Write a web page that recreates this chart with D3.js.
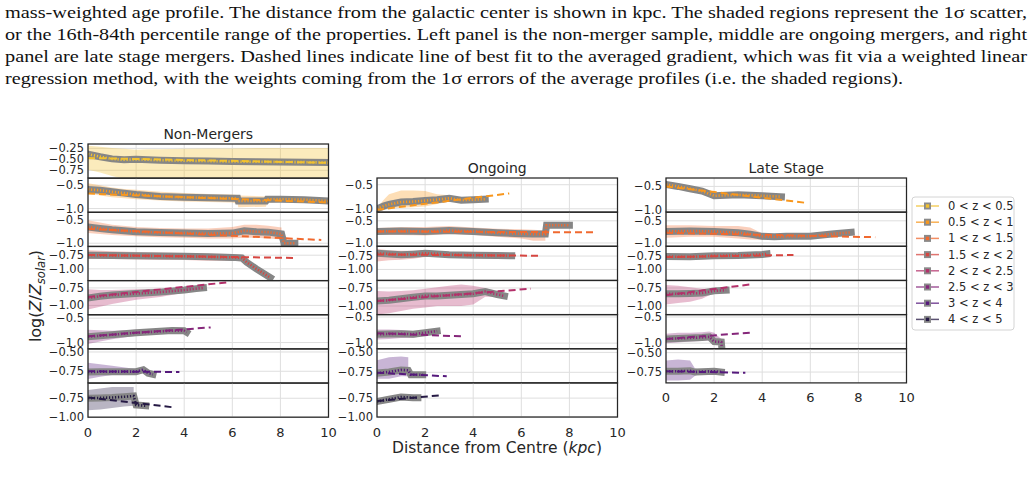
<!DOCTYPE html>
<html>
<head>
<meta charset="utf-8">
<script src="https://cdn.jsdelivr.net/npm/d3@7"></script>
<style>
  body { margin: 0; background: #fff; }
  svg { display: block; }
  text { font-family: "DejaVu Sans", sans-serif; fill: #262626; }
  .cap { font-family: "Liberation Serif", serif; font-size: 17px; fill: #111; }
</style>
</head>
<body>
<svg id="fig" width="1034" height="481"></svg>
<script>
// redshift bins + colours
var zBins = ["0 < z < 0.5", "0.5 < z < 1", "1 < z < 1.5", "1.5 < z < 2",
             "2 < z < 2.5", "2.5 < z < 3", "3 < z < 4", "4 < z < 5"];
var binColors = ["#f2c12e", "#f8971d", "#f0692f", "#d64641",
                 "#b3306a", "#85267a", "#55197c", "#251944"];
var xTicks = [0, 2, 4, 6, 8, 10];

var captionLines = [
  "mass-weighted age profile. The distance from the galactic center is shown in kpc. The shaded regions represent the 1\u03c3 scatter,",
  "or the 16th-84th percentile range of the properties. Left panel is the non-merger sample, middle are ongoing mergers, and right",
  "panel are late stage mergers. Dashed lines indicate line of best fit to the averaged gradient, which was fit via a weighted linear",
  "regression method, with the weights coming from the 1\u03c3 errors of the average profiles (i.e. the shaded regions)."
];

// profiles: [r (kpc), log Z, 16th pct, 84th pct]
// --- Non-Mergers
var nm0 = [[0,-0.38,-0.74,-0.19],[0.5,-0.44,-0.80,-0.21],[1,-0.49,-0.88,-0.24],[1.5,-0.51,-0.95,-0.26],
           [2,-0.50,-0.97,-0.28],[2.5,-0.51,-0.97,-0.27],[3,-0.52,-0.97,-0.27],[4,-0.53,-0.97,-0.26],
           [5,-0.54,-0.97,-0.25],[6,-0.55,-0.97,-0.25],[7,-0.555,-0.97,-0.24],[8,-0.56,-0.97,-0.24],
           [9,-0.565,-0.97,-0.24],[10,-0.575,-0.97,-0.24]];
var nm1 = [[0,-0.59,-0.68,-0.46],[0.5,-0.61,-0.72,-0.50],[1,-0.64,-0.76,-0.55],[1.5,-0.67,-0.78,-0.58],
           [2,-0.70,-0.80,-0.60],[3,-0.74,-0.83,-0.64],[4,-0.76,-0.85,-0.67],[5,-0.77,-0.86,-0.69],
           [6,-0.78,-0.87,-0.70],[6.22,-0.78,-0.90,-0.71],[6.25,-0.84,-0.97,-0.72],[7.4,-0.84,-0.96,-0.74],
           [7.45,-0.80,-0.88,-0.74],[8,-0.80,-0.86,-0.75],[9,-0.81,-0.86,-0.76],[10,-0.84,-0.88,-0.80]];
var nm2 = [[0,-0.65,-0.78,-0.50],[0.5,-0.68,-0.80,-0.55],[1,-0.71,-0.82,-0.60],[2,-0.75,-0.85,-0.65],
           [3,-0.77,-0.87,-0.67],[4,-0.78,-0.88,-0.68],[5,-0.79,-0.90,-0.68],[6,-0.78,-0.90,-0.65],
           [6.5,-0.73,-0.88,-0.60],[7,-0.75,-0.88,-0.60],[7.5,-0.76,-0.90,-0.62],[8.05,-0.80,-0.92,-0.66],
           [8.15,-1.0,null,null],[8.6,-1.0,null,null]];
var nm3 = [[0,-0.75,-0.82,-0.66],[1,-0.755,-0.82,-0.68],[2,-0.76,-0.83,-0.69],[3,-0.765,-0.84,-0.70],
           [4,-0.77,-0.84,-0.71],[5,-0.78,-0.85,-0.72],[6,-0.79,-0.85,-0.73],[6.4,-0.80,-0.86,-0.74],
           [6.6,-0.88,null,null],[7.0,-1.0,null,null],[7.58,-1.16,null,null]];
var nm4 = [[0,-0.894,-1.06,-0.77],[0.5,-0.87,-1.02,-0.78],[1,-0.85,-0.98,-0.78],[2,-0.83,-0.92,-0.77],
           [3,-0.81,-0.88,-0.76],[4,-0.78,-0.82,-0.74],[4.5,-0.76,-0.79,-0.73],[4.8,-0.75,-0.77,-0.73]];
var nm5 = [[0,-0.88,-1.03,-0.74],[0.5,-0.86,-0.98,-0.75],[1,-0.84,-0.93,-0.76],[2,-0.80,-0.86,-0.74],
           [3,-0.77,-0.81,-0.73],[3.5,-0.755,-0.79,-0.72],[4,-0.76,-0.78,-0.74],[4.1,-0.79,null,null]];
var nm6 = [[0,-0.76,-0.85,-0.64],[0.5,-0.755,-0.82,-0.66],[1,-0.755,-0.80,-0.68],[2,-0.755,-0.79,-0.72],
           [2.3,-0.73,-0.76,-0.71],[2.5,-0.775,-0.80,-0.76],[2.7,-0.79,null,null]];
var nm7 = [[0,-0.75,-0.91,-0.64],[0.5,-0.745,-0.90,-0.62],[1,-0.74,-0.88,-0.60],[1.5,-0.73,-0.86,-0.60],
           [1.9,-0.72,-0.85,-0.60],[2.0,-0.84,null,null],[2.4,-0.85,null,null]];
// best fits: [value at r=0, value at end, end r]
var nmFits = [[-0.47,-0.58,10],[-0.68,-0.87,10],[-0.69,-0.93,9.7],[-0.745,-0.80,8.6],
              [-0.88,-0.67,5.8],[-0.87,-0.69,5.1],[-0.75,-0.76,3.8],[-0.74,-0.87,3.5]];
var nmLims = [[-0.93,-0.15],[-1.08,-0.35],[-1.07,-0.33],[-1.215,-0.59],
              [-1.134,-0.645],[-1.13,-0.43],[-0.903,-0.46],[-1.004,-0.546]];
var nmTicks = [[-0.25,-0.5,-0.75],[-0.5,-1.0],[-0.5,-1.0],[-0.75,-1.0],
               [-0.75,-1.0],[-0.5,-1.0],[-0.5,-0.75],[-0.75,-1.0]];

// --- Ongoing
var og1 = [[0,-1.0,-1.06,-0.98],[0.3,-0.94,-1.02,-0.80],[0.5,-0.91,-1.0,-0.70],[1,-0.86,-0.98,-0.62],
           [1.5,-0.85,-0.97,-0.62],[2,-0.83,-0.95,-0.63],[2.5,-0.81,-0.90,-0.70],[3,-0.78,-0.85,-0.72],
           [3.5,-0.82,-0.86,-0.77],[4,-0.81,-0.84,-0.78],[4.5,-0.80,-0.82,-0.78]];
var og2 = [[0,-0.74,-0.82,-0.66],[1,-0.73,-0.82,-0.64],[2,-0.74,-0.83,-0.64],[3,-0.72,-0.80,-0.62],
           [4,-0.74,-0.82,-0.65],[5,-0.77,-0.86,-0.68],[6,-0.79,-0.90,-0.69],[6.5,-0.80,-0.95,-0.70],
           [7,-0.80,-0.95,-0.72],[7.05,-0.60,null,null],[8,-0.60,null,null]];
var og3 = [[0,-0.70,-0.85,-0.62],[0.5,-0.71,-0.83,-0.64],[1,-0.725,-0.82,-0.65],[1.5,-0.715,-0.80,-0.65],
           [2,-0.70,-0.77,-0.64],[2.5,-0.71,-0.76,-0.66],[3,-0.725,-0.76,-0.69],[4,-0.735,-0.77,-0.70],
           [5,-0.74,-0.77,-0.71],[5.6,-0.745,-0.77,-0.72]];
var og4 = [[0,-0.93,-1.12,-0.79],[0.5,-0.92,-1.10,-0.80],[1,-0.90,-1.07,-0.79],[1.5,-0.88,-1.04,-0.78],
           [2,-0.86,-1.02,-0.76],[2.5,-0.86,-1.0,-0.74],[3,-0.85,-1.0,-0.72],[3.5,-0.84,-1.0,-0.70],
           [4,-0.83,-0.98,-0.72],[4.5,-0.80,-0.87,-0.75],[5,-0.84,-0.88,-0.80],[5.3,-0.86,-0.90,-0.82]];
var og5 = [[0,-0.83,-0.93,-0.74],[0.5,-0.825,-0.92,-0.74],[1,-0.82,-0.90,-0.75],[1.5,-0.83,-0.90,-0.77],
           [2,-0.80,-0.85,-0.76],[2.5,-0.77,-0.80,-0.74]];
var og6 = [[0,-0.76,-0.83,-0.60],[0.5,-0.745,-0.83,-0.56],[1,-0.72,-0.80,-0.55],[1.3,-0.725,-0.80,-0.56],
           [1.4,-0.78,null,null],[1.9,-0.78,null,null]];
var og7 = [[0,-0.795,-0.83,-0.77],[0.5,-0.765,-0.80,-0.74],[1,-0.735,-0.77,-0.70],[1.5,-0.745,-0.77,-0.72],
           [1.7,-0.745,-0.76,-0.73]];
var ogFits = [[-1.02,-0.68,5.5],[-0.74,-0.76,9.0],[-0.72,-0.745,6.7],[-0.93,-0.76,6.4],
              [-0.81,-0.87,3.5],[-0.755,-0.80,2.9],[-0.79,-0.71,2.7]];
var ogLims = [[-1.07,-0.36],[-1.075,-0.305],[-1.206,-0.568],[-1.12,-0.645],
              [-1.107,-0.455],[-0.883,-0.454],[-1.004,-0.546]];
var ogTicks = [[-0.5,-1.0],[-0.5,-1.0],[-0.75,-1.0],[-0.75,-1.0],[-0.5,-1.0],[-0.5,-0.75],[-0.75,-1.0]];

// --- Late Stage
var ls1 = [[0,-0.46,-0.50,-0.42],[0.5,-0.50,-0.54,-0.46],[1,-0.55,-0.59,-0.51],[1.5,-0.60,-0.64,-0.56],
           [2,-0.70,-0.74,-0.66],[2.5,-0.69,-0.73,-0.65],[3,-0.68,-0.72,-0.64],[3.5,-0.69,-0.72,-0.66],
           [4,-0.70,-0.73,-0.67],[4.8,-0.72,-0.74,-0.70]];
var ls2 = [[0,-0.74,-0.88,-0.60],[1,-0.73,-0.86,-0.60],[2,-0.74,-0.86,-0.62],[3,-0.77,-0.90,-0.62],
           [3.5,-0.80,-0.92,-0.65],[4,-0.85,-0.93,-0.78],[4.5,-0.86,-0.90,-0.82],[5,-0.85,null,null],
           [6,-0.85,null,null],[7,-0.79,null,null],[7.7,-0.76,null,null]];
var ls3 = [[0,-0.76,-0.80,-0.72],[1,-0.765,-0.82,-0.72],[2,-0.745,-0.80,-0.72],[3,-0.74,-0.76,-0.72],
           [4,-0.72,-0.74,-0.70],[4.2,-0.71,-0.73,-0.70]];
var ls4 = [[0,-0.83,-0.98,-0.71],[0.5,-0.83,-0.96,-0.72],[1,-0.825,-0.94,-0.74],[1.5,-0.82,-0.90,-0.76],
           [2,-0.79,-0.82,-0.76],[2.5,-0.78,-0.80,-0.76]];
var ls5 = [[0,-0.92,-1.0,-0.82],[0.5,-0.91,-0.99,-0.80],[1,-0.90,-0.97,-0.80],[1.5,-0.89,-0.96,-0.79],
           [1.8,-0.88,-0.95,-0.78],[2.0,-0.97,-1.02,-0.80],[2.3,-0.98,-1.02,-0.92],[2.32,-1.08,null,null]];
var ls6 = [[0,-0.74,-0.86,-0.60],[0.5,-0.74,-0.86,-0.59],[1,-0.735,-0.85,-0.60],[1.2,-0.75,-0.80,-0.70],
           [1.5,-0.745,-0.76,-0.73],[2,-0.74,-0.76,-0.72],[2.3,-0.75,-0.77,-0.73]];
var lsFits = [[-0.50,-0.85,5.8],[-0.77,-0.87,8.7],[-0.77,-0.73,5.3],[-0.85,-0.70,3.5],
              [-0.92,-0.80,3.5],[-0.74,-0.76,3.3]];
var lsLims = [[-1.05,-0.32],[-1.075,-0.305],[-1.206,-0.568],[-1.12,-0.645],[-1.107,-0.455],[-0.89,-0.45]];
var lsTicks = [[-0.5,-1.0],[-0.5,-1.0],[-0.75,-1.0],[-0.75,-1.0],[-0.5,-1.0],[-0.5,-0.75]];

var panels = [
  {title: "Non-Mergers", bins: [0,1,2,3,4,5,6,7], profs: [nm0,nm1,nm2,nm3,nm4,nm5,nm6,nm7],
   fits: nmFits, lims: nmLims, ticks: nmTicks, left: 88, top: 144},
  {title: "Ongoing", bins: [1,2,3,4,5,6,7], profs: [og1,og2,og3,og4,og5,og6,og7],
   fits: ogFits, lims: ogLims, ticks: ogTicks, left: 377, top: 178},
  {title: "Late Stage", bins: [1,2,3,4,5,6], profs: [ls1,ls2,ls3,ls4,ls5,ls6],
   fits: lsFits, lims: lsLims, ticks: lsTicks, left: 666, top: 178}
];
var pw = 240.5, rowH = 34.15;

var svg = d3.select("#fig");

// caption text from the paper
svg.selectAll(".cap").data(captionLines).enter().append("text")
  .attr("class", "cap")
  .attr("x", 5)
  .attr("y", function(d, i) { return 18 + i * 22; })
  .attr("textLength", function(d, i) { return i < 3 ? 1022 : 898; })
  .attr("lengthAdjust", "spacingAndGlyphs")
  .text(function(d) { return d; });

var fmtTick = function(step) {
  var f = d3.format(step < 0.5 ? ".2f" : ".1f");
  return function(d) { return f(d).replace("-", "\u2212"); };
};

panels.forEach(function(p, pi) {
  var x = d3.scaleLinear().domain([0, 10]).range([p.left, p.left + pw]);
  var bottom = p.top + p.bins.length * rowH;

  p.bins.forEach(function(b, i) {
    var top = p.top + i * rowH;
    var y = d3.scaleLinear().domain(p.lims[i]).range([top + rowH, top]);
    var col = binColors[b];
    var g = svg.append("g");
    var cid = "clip" + pi + "_" + i;

    g.append("clipPath").attr("id", cid).append("rect")
      .attr("x", p.left).attr("y", top).attr("width", pw).attr("height", rowH);

    // grid
    g.selectAll(".vg").data(xTicks).enter().append("line")
      .attr("x1", x).attr("x2", x).attr("y1", top).attr("y2", top + rowH)
      .attr("stroke", "#dedede").attr("stroke-width", 1);
    g.selectAll(".hg").data(p.ticks[i]).enter().append("line")
      .attr("x1", p.left).attr("x2", p.left + pw)
      .attr("y1", y).attr("y2", y)
      .attr("stroke", "#dedede").attr("stroke-width", 1);

    var body = g.append("g").attr("clip-path", "url(#" + cid + ")");
    var prof = p.profs[i];

    // 1 sigma band
    var band = d3.area()
      .defined(function(d) { return d[2] != null; })
      .x(function(d) { return x(d[0]); })
      .y0(function(d) { return y(d[2]); })
      .y1(function(d) { return y(d[3]); });
    body.append("path").datum(prof).attr("d", band)
      .attr("fill", col).attr("opacity", 0.32);

    // averaged profile: grey marker edges + coloured faces
    var line = d3.line()
      .x(function(d) { return x(d[0]); })
      .y(function(d) { return y(d[1]); });
    body.append("path").datum(prof).attr("d", line)
      .attr("fill", "none").attr("stroke", "#868686").attr("stroke-width", 7)
      .attr("stroke-linecap", "square");
    body.append("path").datum(prof).attr("d", line)
      .attr("fill", "none").attr("stroke", col).attr("stroke-width", 2.6)
      .attr("stroke-dasharray", "1.2,1.8");

    // best fit
    var f = p.fits[i];
    body.append("path").datum([[0, f[0]], [f[2], f[1]]]).attr("d", line)
      .attr("fill", "none").attr("stroke", col).attr("stroke-width", 2)
      .attr("stroke-dasharray", "7,4");

    // y tick labels
    var step = Math.abs(p.ticks[i][0] - p.ticks[i][1]);
    g.selectAll(".yt").data(p.ticks[i]).enter().append("text")
      .attr("x", p.left - 4).attr("y", y).attr("dy", "0.35em")
      .attr("text-anchor", "end").attr("font-size", 11.5)
      .text(fmtTick(step));

    // frame
    g.append("rect")
      .attr("x", p.left).attr("y", top).attr("width", pw).attr("height", rowH)
      .attr("fill", "none").attr("stroke", "#262626").attr("stroke-width", 1.25);
  });

  svg.append("text")
    .attr("x", p.left + pw / 2).attr("y", p.top - 5)
    .attr("text-anchor", "middle").attr("font-size", 14)
    .text(p.title);

  svg.selectAll(".xt" + pi).data(xTicks).enter().append("text")
    .attr("x", x).attr("y", bottom + 15).attr("dy", "0.35em")
    .attr("text-anchor", "middle").attr("font-size", 13)
    .text(function(d) { return d; });
});

// axis labels
var xl = svg.append("text").attr("x", 497).attr("y", 453)
  .attr("text-anchor", "middle").attr("font-size", 15.5);
xl.append("tspan").text("Distance from Centre (");
xl.append("tspan").attr("font-style", "italic").text("kpc");
xl.append("tspan").text(")");

var yl = svg.append("text").attr("transform", "translate(41,296) rotate(-90)")
  .attr("text-anchor", "middle").attr("font-size", 16);
yl.append("tspan").text("log(");
yl.append("tspan").attr("font-style", "italic").text("Z");
yl.append("tspan").text("/");
yl.append("tspan").attr("font-style", "italic").text("Z");
yl.append("tspan").attr("font-style", "italic").attr("font-size", 11.5).attr("dy", 3.5).text("solar");
yl.append("tspan").attr("dy", -3.5).text(")");

// legend
var leg = svg.append("g");
leg.append("rect").attr("x", 912).attr("y", 197).attr("width", 102).attr("height", 133)
  .attr("rx", 3).attr("fill", "#fff").attr("stroke", "#d4d4d4");
var items = leg.selectAll(".li").data(zBins).enter().append("g")
  .attr("transform", function(d, i) { return "translate(0," + (206 + i * 16.2) + ")"; });
items.append("line").attr("x1", 916).attr("x2", 939)
  .attr("stroke", function(d, i) { return binColors[i]; })
  .attr("stroke-width", 1.5).attr("opacity", 0.75);
items.append("rect").attr("x", 924).attr("y", -3.5).attr("width", 7).attr("height", 7)
  .attr("fill", "#8a8a8a");
items.append("rect").attr("x", 925.8).attr("y", -1.7).attr("width", 3.4).attr("height", 3.4)
  .attr("fill", function(d, i) { return binColors[i]; });
items.append("text").attr("x", 948).attr("dy", "0.35em").attr("font-size", 11.5)
  .text(function(d) { return d; });
</script>
</body>
</html>
